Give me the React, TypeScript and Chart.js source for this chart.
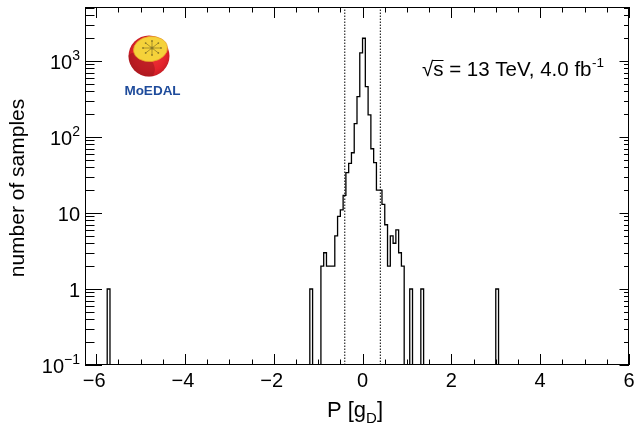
import React, { useEffect, useRef } from 'react';
import { Chart, registerables } from 'chart.js';

Chart.register(...registerables);

// ---- data ----
const BIN_WIDTH = 0.0625;
const binLowEdges = [
  -5.75, -1.1875,
  -0.9375, -0.875, -0.8125, -0.75, -0.6875, -0.625, -0.5625, -0.5, -0.4375, -0.375,
  -0.3125, -0.25, -0.1875, -0.125, -0.0625, 0, 0.0625, 0.125, 0.1875, 0.25,
  0.3125, 0.375, 0.4375, 0.5, 0.5625, 0.625, 0.6875, 0.75, 0.8125, 0.875,
  1.0625, 1.3125, 3.0,
];
const binCounts = [
  1, 1,
  2, 3, 2, 2, 2, 5, 9, 11, 17, 34,
  45, 62, 150, 340, 1280, 1990, 460, 195, 70, 46,
  20, 20, 13, 7, 2, 5, 4, 6, 3, 2,
  1, 1, 1,
];
const cutLines = [-0.4, 0.4];
const xTickValues = [-6, -4, -2, 0, 2, 4, 6];
const yDecades = [0.1, 1, 10, 100, 1000];
const yDecadeBase = ['10', '1', '10', '10', '10'];
const yDecadeExp = ['\u22121', '', '', '2', '3'];
const X_MIN = -6.25;
const X_MAX = 6.0;
const Y_MIN = 0.1;
const Y_MAX = 5130;

const FONT = "'Liberation Sans', Arial, Helvetica, sans-serif";

function buildHistPoints() {
  const pts: { x: number; y: number }[] = [{ x: X_MIN, y: Y_MIN }];
  for (let i = 0; i < binLowEdges.length; i++) {
    const lo = binLowEdges[i];
    const hi = lo + BIN_WIDTH;
    pts.push({ x: lo, y: binCounts[i] });
    const next = binLowEdges[i + 1];
    if (next === undefined || Math.abs(next - hi) > 1e-9) pts.push({ x: hi, y: Y_MIN });
  }
  pts.push({ x: X_MAX, y: Y_MIN });
  return pts;
}

const decorPlugin = {
  id: 'decor',
  afterDraw(chart: any) {
    const ctx: CanvasRenderingContext2D = chart.ctx;
    const xs = chart.scales.x;
    const ys = chart.scales.y;
    const a = chart.chartArea;
    ctx.save();
    ctx.strokeStyle = '#000';
    ctx.fillStyle = '#000';
    ctx.lineWidth = 1;
    // frame
    ctx.strokeRect(a.left + 0.5, a.top + 0.5, a.right - a.left - 1, a.bottom - a.top - 1);
    // x ticks
    ctx.beginPath();
    for (let v = -6; v <= 6.0001; v += 0.5) {
      const px = Math.round(xs.getPixelForValue(v)) + 0.5;
      const major = Math.abs(v % 2) < 1e-6;
      const lb = major ? 11 : 5.5;
      const lt = major ? 11 : 5.5;
      ctx.moveTo(px, a.bottom);
      ctx.lineTo(px, a.bottom - lb);
      ctx.moveTo(px, a.top);
      ctx.lineTo(px, a.top + lt);
    }
    // y ticks
    for (let d = 0.1; d < Y_MAX; d *= 10) {
      for (let m = 1; m <= 9; m++) {
        const v = d * m;
        if (v > Y_MAX) break;
        const py = Math.round(ys.getPixelForValue(v)) + 0.5;
        const major = m === 1;
        const ll = major ? 17 : 9.5;
        const lr = major ? 9.5 : 5;
        ctx.moveTo(a.left, py);
        ctx.lineTo(a.left + ll, py);
        ctx.moveTo(a.right, py);
        ctx.lineTo(a.right - lr, py);
      }
    }
    ctx.stroke();

    // x tick labels
    ctx.font = `20px ${FONT}`;
    ctx.textAlign = 'center';
    ctx.textBaseline = 'alphabetic';
    xTickValues.forEach((v) => {
      const px = xs.getPixelForValue(v);
      const s = v < 0 ? '\u2212' + Math.abs(v) : String(v);
      ctx.fillText(s, px - (v < 0 ? 2 : 0), 387);
    });

    // y tick labels
    yDecades.forEach((d, i) => {
      const py = ys.getPixelForValue(d);
      let right = 80;
      ctx.textAlign = 'right';
      if (yDecadeExp[i]) {
        ctx.font = `14px ${FONT}`;
        const w = ctx.measureText(yDecadeExp[i]).width;
        ctx.fillText(yDecadeExp[i], right, py - 1);
        right -= w;
      }
      ctx.font = `20px ${FONT}`;
      ctx.fillText(yDecadeBase[i], right, py + 8);
    });

    // y title
    ctx.save();
    ctx.translate(24, 188);
    ctx.rotate(-Math.PI / 2);
    ctx.font = `21px ${FONT}`;
    ctx.textAlign = 'center';
    ctx.fillText('number of samples', 0, 0);
    ctx.restore();

    // x title  P [g_D]
    {
      ctx.textAlign = 'left';
      const big = `22px ${FONT}`;
      const small = `15px ${FONT}`;
      ctx.font = big;
      const w1 = ctx.measureText('P [g').width;
      const w3 = ctx.measureText(']').width;
      ctx.font = small;
      const w2 = ctx.measureText('D').width;
      const total = w1 + w2 + w3;
      const x0 = 355 - total / 2;
      const base = 417;
      ctx.font = big;
      ctx.fillText('P [g', x0, base);
      ctx.font = small;
      ctx.fillText('D', x0 + w1, base + 6);
      ctx.font = big;
      ctx.fillText(']', x0 + w1 + w2, base);
    }

    // energy / luminosity text
    {
      ctx.textAlign = 'left';
      const base = 76;
      let x0 = 422;
      ctx.font = `20.5px ${FONT}`;
      ctx.fillText('\u221A', x0, base);
      const wr = ctx.measureText('\u221A').width;
      const ws = ctx.measureText('s').width;
      ctx.beginPath();
      ctx.moveTo(x0 + wr - 1, base - 15.5);
      ctx.lineTo(x0 + wr + ws, base - 15.5);
      ctx.stroke();
      x0 += wr;
      const main = 's = 13 TeV, 4.0 fb';
      ctx.fillText(main, x0, base);
      x0 += ctx.measureText(main).width;
      ctx.font = `13.5px ${FONT}`;
      ctx.fillText('-1', x0 + 0.5, base - 9);
    }

    // MoEDAL logo
    {
      const cx = 149, cy = 56, r = 20.5;
      const g = ctx.createRadialGradient(cx + 4, cy - 6, 4, cx, cy, r);
      g.addColorStop(0, '#f0343a');
      g.addColorStop(0.75, '#e3222b');
      g.addColorStop(1, '#c81e26');
      ctx.fillStyle = g;
      ctx.beginPath();
      ctx.arc(cx, cy, r, 0, Math.PI * 2);
      ctx.fill();
      // shadow lower-left
      ctx.save();
      ctx.beginPath();
      ctx.arc(cx, cy, r, 0, Math.PI * 2);
      ctx.clip();
      ctx.fillStyle = 'rgba(140,20,25,0.45)';
      ctx.beginPath();
      ctx.ellipse(cx - 9, cy + 10, 16, 12, 0.6, 0, Math.PI * 2);
      ctx.fill();
      ctx.restore();
      // yellow top
      ctx.fillStyle = '#f5d23a';
      ctx.strokeStyle = '#e8a12a';
      ctx.lineWidth = 0.8;
      ctx.beginPath();
      ctx.ellipse(cx + 1.5, cy - 7, 17, 12.5, -0.12, 0, Math.PI * 2);
      ctx.fill();
      ctx.stroke();
      // star with arrows
      const sx = cx + 3, sy = cy - 8;
      ctx.strokeStyle = '#8c7a28';
      ctx.fillStyle = '#8c7a28';
      ctx.lineWidth = 0.7;
      for (let k = 0; k < 8; k++) {
        const ang = (k * Math.PI) / 4;
        const ex = sx + Math.cos(ang) * 9;
        const ey = sy + Math.sin(ang) * 7;
        ctx.beginPath();
        ctx.moveTo(sx, sy);
        ctx.lineTo(ex, ey);
        ctx.stroke();
        ctx.beginPath();
        ctx.arc(ex, ey, 0.9, 0, Math.PI * 2);
        ctx.fill();
      }
      ctx.beginPath();
      ctx.arc(sx, sy, 1.5, 0, Math.PI * 2);
      ctx.fill();
      // text
      ctx.fillStyle = '#1e4b9b';
      ctx.font = `bold 13.5px ${FONT}`;
      ctx.textAlign = 'center';
      ctx.fillText('MoEDAL', 152.5, 95);
    }
    ctx.restore();
  },
};

export default function App() {
  const ref = useRef<HTMLCanvasElement | null>(null);
  useEffect(() => {
    document.body.style.margin = '0';
    document.body.style.background = '#fff';
    const canvas = ref.current;
    if (!canvas) return;
    const chart = new Chart(canvas, {
      type: 'line',
      data: {
        datasets: [
          {
            data: buildHistPoints(),
            borderColor: '#000',
            borderWidth: 1.3,
            stepped: true,
            fill: false,
            pointRadius: 0,
          } as any,
          ...cutLines.map((c) => ({
            data: [
              { x: c, y: Y_MIN },
              { x: c, y: Y_MAX },
            ],
            borderColor: '#000',
            borderWidth: 1,
            borderDash: [1.5, 1.5],
            fill: false,
            pointRadius: 0,
          })),
        ],
      },
      options: {
        animation: false,
        responsive: false,
        devicePixelRatio: 1,
        layout: { padding: { left: 85, right: 7, top: 7, bottom: 68 } },
        scales: {
          x: { type: 'linear', min: X_MIN, max: X_MAX, display: false },
          y: { type: 'logarithmic', min: Y_MIN, max: Y_MAX, display: false },
        },
        plugins: { legend: { display: false }, tooltip: { enabled: false } },
        elements: { line: { tension: 0 } },
      },
      plugins: [decorPlugin],
    });
    return () => chart.destroy();
  }, []);
  return (
    <div style={{ width: 636, height: 433, background: '#fff' }}>
      <canvas ref={ref} width={636} height={433} style={{ display: 'block', width: 636, height: 433 }} />
    </div>
  );
}
